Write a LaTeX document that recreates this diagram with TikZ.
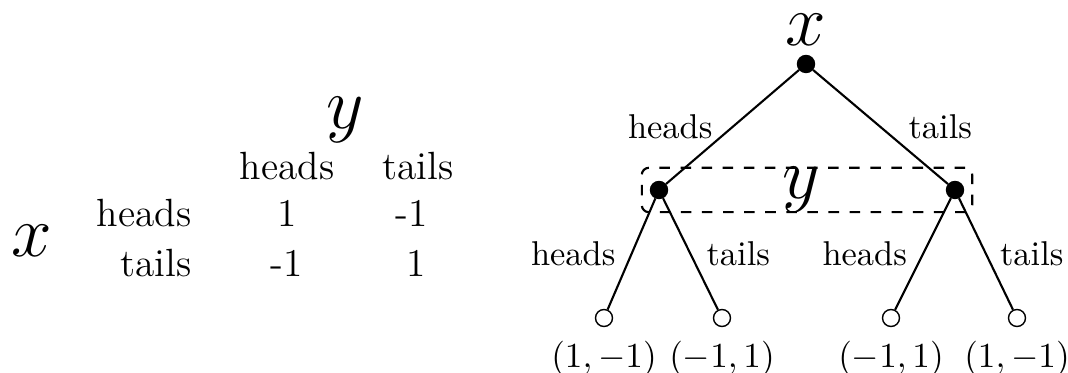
\documentclass[tikz,border=0pt]{standalone}
\usepackage{amsmath,amssymb}
\usetikzlibrary{fit}

\begin{document}
\begin{tikzpicture}[scale=1,
    decision/.style={circle, fill=black, draw=black, inner sep=0pt, minimum size=0.17cm},
    outcome/.style={circle, draw=black, fill=white, inner sep=0pt, minimum size=0.17cm},
    branch/.style={semithick},
    player/.style={inner sep=0pt, font=\huge},
    payoff/.style={inner sep=0pt, font=\fontsize{11.2}{13}\selectfont},
    choice/.style={font=\fontsize{9.8}{12}\selectfont, inner sep=2pt}]

  \useasboundingbox (0,0) rectangle (10.68,3.73);

  % 1. Tableau des gains
  \node[player] (py) at (3.45, 2.53) {$y$};
  \node[payoff] (ch) at (2.87, 2.07) {heads};
  \node[payoff] (ct) at (4.18, 2.07) {tails};
  \node[payoff, anchor=east] (rh) at (1.92, 1.60) {heads};
  \node[payoff, anchor=east] (rt) at (1.92, 1.10) {tails};
  \node[player] (px) at (0.32, 1.32) {$x$};
  \node[payoff] (hh) at (2.87, 1.60) {1};
  \node[payoff] (ht) at (4.12, 1.60) {-1};
  \node[payoff] (th) at (2.87, 1.10) {-1};
  \node[payoff] (tt) at (4.16, 1.10) {1};

  % 2. Arbre du jeu
  \node[decision] (root) at (8.06, 3.09) {};
  \node[player] (rootlbl) at (8.06, 3.43) {$x$};
  \node[decision] (l) at (6.59, 1.83) {};
  \node[decision] (r) at (9.55, 1.83) {};
  \node[outcome, label={[yshift=-0.02cm]below:$(1,-1)$}] (ll) at (6.04, 0.55) {};
  \node[outcome, label={[yshift=-0.02cm]below:$(-1,1)$}] (lr) at (7.22, 0.55) {};
  \node[outcome, label={[yshift=-0.02cm]below:$(-1,1)$}] (rl) at (8.91, 0.55) {};
  \node[outcome, label={[yshift=-0.02cm]below:$(1,-1)$}] (rr) at (10.17, 0.55) {};

  \draw[branch] (root) -- node[choice, midway, left, xshift=-0.12cm] {heads} (l);
  \draw[branch] (root) -- node[choice, midway, right, xshift=0.2cm] {tails} (r);
  \draw[branch] (l) -- node[choice, midway, left, xshift=-0.08cm] {heads} (ll);
  \draw[branch] (l) -- node[choice, midway, right, xshift=0.08cm] {tails} (lr);
  \draw[branch] (r) -- node[choice, midway, left, xshift=-0.08cm] {heads} (rl);
  \draw[branch] (r) -- node[choice, midway, right, xshift=0.06cm] {tails} (rr);

  % 3. Ensemble d'information de y
  \node[draw, dashed, semithick, rounded corners=2pt, inner xsep=0.08cm, inner ysep=0.13cm, fit=(l)(r)] (info) {};
  \node[player] at ([xshift=-0.06cm]info.center) {$y$};

\end{tikzpicture}
\end{document}
